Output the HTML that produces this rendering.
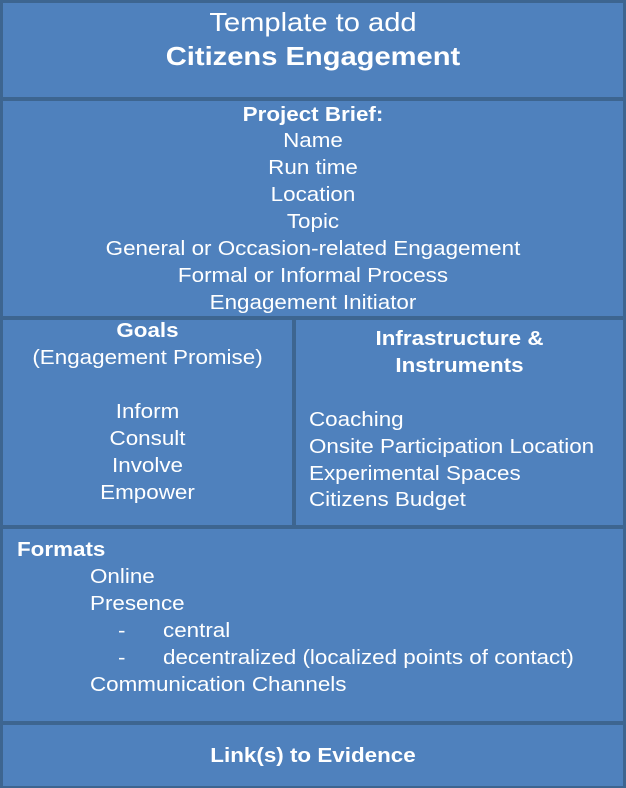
<!DOCTYPE html>
<html><head><meta charset="utf-8"><style>
body{margin:0;width:626px;height:788px;background:#3d6590;position:relative;overflow:hidden;font-family:"Liberation Sans",Arial,sans-serif;color:#fff}
.b{position:absolute;background:#4f81bd}
.t{position:absolute;white-space:nowrap;font-size:20px;line-height:24px;transform:scaleX(1.12);transform-origin:center}
.l{transform-origin:left center}
.c{left:0;width:626px;text-align:center}
.g{left:3px;width:289px;text-align:center}
.i{left:296px;width:327px;text-align:center}
.bold{font-weight:bold}
</style></head><body>
<div class="b" style="left:3px;top:3px;width:620px;height:94px"></div>
<div class="b" style="left:3px;top:101px;width:620px;height:215px"></div>
<div class="b" style="left:3px;top:320px;width:289px;height:205px"></div>
<div class="b" style="left:296px;top:320px;width:327px;height:205px"></div>
<div class="b" style="left:3px;top:529px;width:620px;height:192px"></div>
<div class="b" style="left:3px;top:725px;width:620px;height:61px"></div>

<div class="t c" style="top:7px;font-size:26px;line-height:30px">Template to add</div>
<div class="t c bold" style="top:41px;font-size:26px;line-height:30px">Citizens Engagement</div>

<div class="t c bold" style="top:103px">Project Brief:</div>
<div class="t c" style="top:129px">Name</div>
<div class="t c" style="top:156px">Run time</div>
<div class="t c" style="top:183px">Location</div>
<div class="t c" style="top:210px">Topic</div>
<div class="t c" style="top:237px">General or Occasion-related Engagement</div>
<div class="t c" style="top:264px">Formal or Informal Process</div>
<div class="t c" style="top:291px">Engagement Initiator</div>

<div class="t g bold" style="top:319px">Goals</div>
<div class="t g" style="top:346px">(Engagement Promise)</div>
<div class="t g" style="top:400px">Inform</div>
<div class="t g" style="top:427px">Consult</div>
<div class="t g" style="top:454px">Involve</div>
<div class="t g" style="top:481px">Empower</div>

<div class="t i bold" style="top:327px">Infrastructure &amp;</div>
<div class="t i bold" style="top:354px">Instruments</div>
<div class="t l" style="left:309px;top:408px">Coaching</div>
<div class="t l" style="left:309px;top:435px">Onsite Participation Location</div>
<div class="t l" style="left:309px;top:462px">Experimental Spaces</div>
<div class="t l" style="left:309px;top:488px">Citizens Budget</div>

<div class="t l bold" style="left:17px;top:538px">Formats</div>
<div class="t l" style="left:90px;top:565px">Online</div>
<div class="t l" style="left:90px;top:592px">Presence</div>
<div class="t l" style="left:118px;top:619px">-</div>
<div class="t l" style="left:163px;top:619px">central</div>
<div class="t l" style="left:118px;top:646px">-</div>
<div class="t l" style="left:163px;top:646px">decentralized (localized points of contact)</div>
<div class="t l" style="left:90px;top:673px">Communication Channels</div>

<div class="t c bold" style="top:744px">Link(s) to Evidence</div>
</body></html>
